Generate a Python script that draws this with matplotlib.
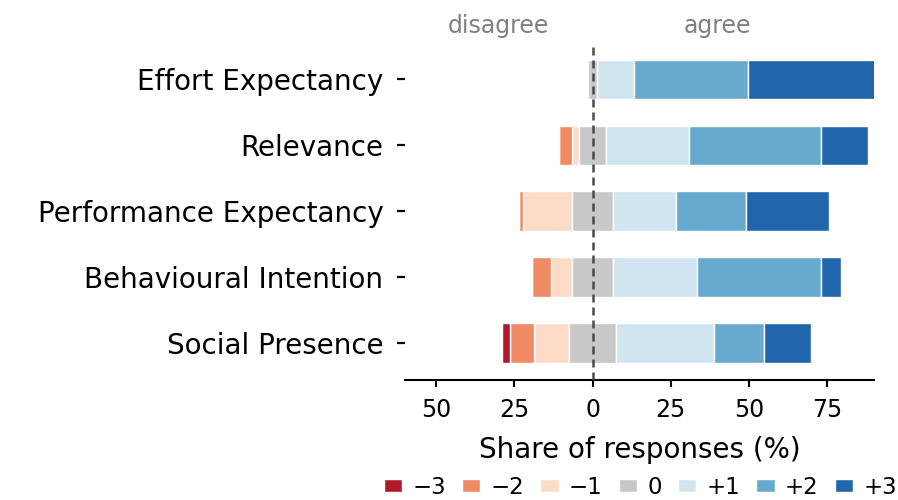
import matplotlib
matplotlib.use("Agg")
import matplotlib.pyplot as plt
import numpy as np

categories = ["Effort Expectancy", "Relevance", "Performance Expectancy",
              "Behavioural Intention", "Social Presence"]
levels = ["\u22123", "\u22122", "\u22121", "0", "+1", "+2", "+3"]
# shares (%) per level: -3, -2, -1, 0, +1, +2, +3
neg3 = [0.0, 0.0, 0.0, 0.0, 2.7]
neg2 = [0.0, 4.1, 1.1, 6.2, 7.5]
neg1 = [0.0, 2.2, 15.9, 6.7, 11.3]
neutral = [2.7, 8.8, 13.0, 13.0, 15.0]
pos1 = [12.0, 26.5, 20.3, 26.9, 31.3]
pos2 = [36.3, 42.2, 22.4, 39.7, 16.1]
pos3 = [49.0, 15.1, 26.3, 6.4, 15.1]

colors = ["#b2182b", "#ef8a62", "#fddbc7", "#c8c8c8", "#d1e5f0", "#67a9cf", "#2166ac"]

fig = plt.figure(figsize=(8.98, 5.0), dpi=100)
ax = fig.add_axes([405 / 898, 0.24, (874 - 405) / 898, 0.675])

y = np.arange(len(categories))
n3, n2, n1 = np.array(neg3), np.array(neg2), np.array(neg1)
z = np.array(neutral)
p1, p2, p3 = np.array(pos1), np.array(pos2), np.array(pos3)

handles = {}
left_pos = -z / 2
for vals, c, lab in [(n1, colors[2], levels[2]), (n2, colors[1], levels[1]), (n3, colors[0], levels[0])]:
    b = ax.barh(y, vals, left=left_pos - vals, height=0.6, color=c,
                edgecolor="white", linewidth=1.0, label=lab)
    handles[lab] = b
    left_pos = left_pos - vals
b = ax.barh(y, z, left=-z / 2, height=0.6, color=colors[3],
            edgecolor="white", linewidth=1.0, label=levels[3])
handles[levels[3]] = b
right_pos = z / 2
for vals, c, lab in [(p1, colors[4], levels[4]), (p2, colors[5], levels[5]), (p3, colors[6], levels[6])]:
    b = ax.barh(y, vals, left=right_pos, height=0.6, color=c,
                edgecolor="white", linewidth=1.0, label=lab)
    handles[lab] = b
    right_pos = right_pos + vals

ax.axvline(0, color="#4a4a4a", linestyle=(0, (3.2, 2.0)), linewidth=1.8, zorder=5)

ax.set_xlim(-60, 90)
ax.set_ylim(4.56, -0.56)
ax.set_yticks(y)
ax.set_yticklabels(categories, fontsize=20)
ax.set_xticks([-50, -25, 0, 25, 50, 75])
ax.set_xticklabels(["50", "25", "0", "25", "50", "75"], fontsize=17)
ax.tick_params(axis="y", length=5.5, width=1.6, pad=10)
ax.tick_params(axis="x", length=5, width=1.5, pad=8)
for s in ["left", "top", "right"]:
    ax.spines[s].set_visible(False)
ax.spines["bottom"].set_linewidth(1.5)
ax.set_xlabel("Share of responses (%)", fontsize=20, labelpad=10)

ax.text(-30, 1.028, "disagree", transform=ax.get_xaxis_transform(),
        ha="center", va="baseline", fontsize=17, color="#808080")
ax.text(40, 1.028, "agree", transform=ax.get_xaxis_transform(),
        ha="center", va="baseline", fontsize=17, color="#808080")

fig.legend([handles[l] for l in levels], levels, loc="center",
           bbox_to_anchor=(0.713, 0.026), ncol=7, frameon=False, fontsize=16.5,
           handlelength=0.8, handleheight=0.5, handletextpad=0.45,
           columnspacing=0.7, borderaxespad=0)

fig.savefig("out.png", dpi=100)
